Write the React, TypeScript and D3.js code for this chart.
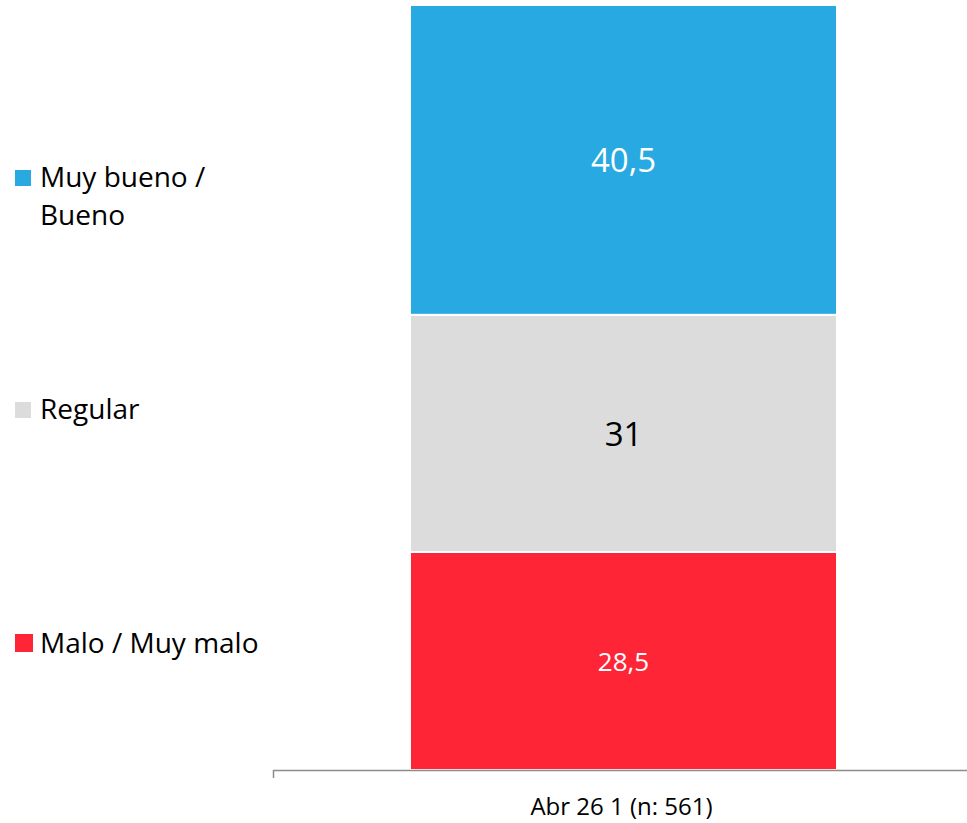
import React from "react";
import * as d3 from "d3";

const categories = ["Abr 26 1 (n: 561)"];
const seriesNames = ["Malo / Muy malo", "Regular", "Muy bueno / Bueno"];
const seriesValues = [28.5, 31, 40.5];
const seriesColors = ["#FE2536", "#DCDCDC", "#29A9E1"];
const labelColors = ["#FFFFFF", "#000000", "#FFFFFF"];
const labelSizes = [26, 33, 33];
const legendLines = [["Malo / Muy malo"], ["Regular"], ["Muy bueno /", "Bueno"]];
const legendY = [653, 419, 187];
const legendSq = [18, 16, 16];

const W = 967;
const H = 823;

export default function App() {
  const x = d3.scaleBand<string>().domain(categories).range([280, 967]).paddingInner(0).paddingOuter(0.3044);
  const y = d3.scaleLinear().domain([0, 100]).range([770, 5]);
  const stack = d3.stack<any>().keys(seriesNames);
  const row: any = { cat: categories[0] };
  seriesNames.forEach((s, i) => (row[s] = seriesValues[i]));
  const stacked = stack([row]);
  const font = "'Open Sans', 'Liberation Sans', sans-serif";
  const x0 = x(categories[0])!;
  const bw = x.bandwidth();
  return (
    <svg width={W} height={H} style={{ position: "absolute", left: 0, top: 0, background: "#fff" }} fontFamily={font}>
      {stacked.map((s, i) => {
        const d = s[0];
        const y0 = y(d[1]);
        const y1 = y(d[0]);
        return (
          <g key={i}>
            <rect x={x0} y={y0} width={bw} height={y1 - y0} fill={seriesColors[i]} stroke="#fff" strokeWidth={2} />
            <text
              x={x0 + bw / 2}
              y={(y0 + y1) / 2}
              textAnchor="middle"
              dominantBaseline="central"
              fill={labelColors[i]}
              fontSize={labelSizes[i]}
            >
              {String(seriesValues[i]).replace(".", ",")}
            </text>
          </g>
        );
      })}
      <line x1={273} x2={967} y1={770.5} y2={770.5} stroke="#8C8C8C" strokeWidth={1.5} />
      <line x1={273.5} x2={273.5} y1={770} y2={778} stroke="#8C8C8C" strokeWidth={1.5} />
      <text x={x0 + bw / 2 - 2} y={815} textAnchor="middle" fontSize={24} fill="#000">
        {categories[0]}
      </text>
      {seriesNames.map((s, i) => (
        <g key={s}>
          <rect x={15} y={legendY[i] - legendSq[i] - 1} width={legendSq[i]} height={legendSq[i]} fill={seriesColors[i]} />
          {legendLines[i].map((l, j) => (
            <text key={j} x={40} y={legendY[i] + j * 38} fontSize={28} fill="#000">
              {l}
            </text>
          ))}
        </g>
      ))}
    </svg>
  );
}
